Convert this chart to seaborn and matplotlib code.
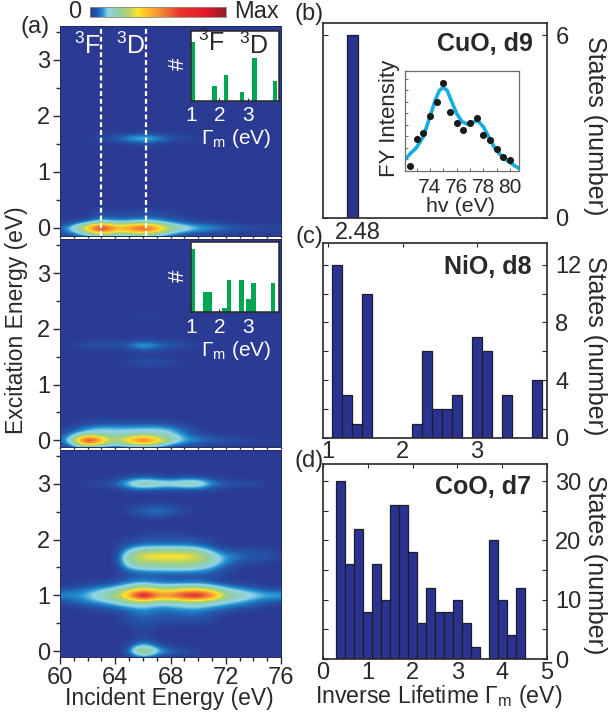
import numpy as np
import pandas as pd
import seaborn as sns
import matplotlib
matplotlib.use("Agg")
import matplotlib.pyplot as plt
from matplotlib.colors import LinearSegmentedColormap

W, H = 609, 717
sns.set_style("ticks")
plt.rcParams["font.family"] = ["Liberation Sans", "DejaVu Sans"]
plt.rcParams["mathtext.default"] = "regular"
plt.rcParams["axes.linewidth"] = 1.0
INK = "#2a2829"
BAR = "#2b3390"
GREEN = "#00a651"

# ---- map tables: intensity (fraction of colour bar), columns = incident energy
incident = list(range(60, 77))
cu_rows = [-0.2, -0.1, 0.0, 0.1, 0.2, 0.3, 1.5, 1.6, 1.7]
cu_map = [
    [.00,.02,.03,.05,.04,.04,.05,.04,.02,.01,.00,.00,.00,.00,.00,.00,.00],
    [.03,.06,.14,.24,.18,.18,.24,.18,.09,.05,.03,.02,.01,.00,.00,.00,.00],
    [.06,.17,.46,.98,.52,.58,.82,.58,.29,.19,.13,.11,.08,.06,.04,.03,.03],
    [.01,.03,.07,.17,.11,.13,.16,.13,.08,.05,.03,.02,.01,.00,.00,.00,.00],
    [.00,.00,.01,.05,.04,.04,.05,.05,.03,.02,.00,.00,.00,.00,.00,.00,.00],
    [.00,.00,.00,.03,.01,.02,.03,.02,.01,.00,.00,.00,.00,.00,.00,.00,.00],
    [.00,.00,.00,.00,.00,.01,.03,.02,.00,.00,.00,.00,.00,.00,.00,.00,.00],
    [.00,.00,.02,.03,.07,.12,.16,.12,.06,.04,.02,.00,.00,.00,.00,.00,.00],
    [.00,.00,.00,.00,.00,.00,.01,.00,.00,.00,.00,.00,.00,.00,.00,.00,.00],
]
ni_rows = [-0.1, 0.0, 0.1, 0.2, 0.3, 0.4, 1.3, 1.4, 1.5, 1.6, 1.7, 1.8, 2.2]
ni_map = [
    [.02,.07,.20,.11,.07,.11,.15,.11,.05,.03,.02,.01,.00,.00,.00,.00,.00],
    [.05,.20,.98,.50,.26,.46,.74,.48,.22,.12,.09,.07,.05,.04,.02,.02,.01],
    [.03,.10,.18,.17,.15,.17,.18,.17,.15,.08,.04,.02,.00,.00,.00,.00,.00],
    [.01,.04,.10,.13,.12,.12,.13,.13,.11,.05,.02,.00,.00,.00,.00,.00,.00],
    [.00,.01,.03,.04,.04,.04,.04,.04,.03,.02,.00,.00,.00,.00,.00,.00,.00],
    [.00,.00,.01,.02,.01,.01,.01,.01,.00,.00,.00,.00,.00,.00,.00,.00,.00],
    [.00,.00,.00,.00,.00,.00,.01,.01,.00,.00,.00,.00,.00,.00,.00,.00,.00],
    [.00,.00,.00,.00,.00,.03,.05,.05,.03,.01,.00,.00,.00,.00,.00,.00,.00],
    [.00,.00,.00,.00,.00,.00,.01,.00,.00,.00,.00,.00,.00,.00,.00,.00,.00],
    [.00,.00,.00,.01,.00,.01,.02,.02,.01,.00,.00,.00,.00,.00,.00,.00,.00],
    [.00,.02,.05,.05,.04,.07,.15,.09,.06,.04,.02,.00,.00,.00,.00,.00,.00],
    [.00,.00,.00,.01,.00,.01,.01,.01,.01,.00,.00,.00,.00,.00,.00,.00,.00],
    [.00,.00,.00,.00,.00,.00,.03,.02,.00,.00,.00,.00,.00,.00,.00,.00,.00],
]
co_rows = [-0.1, 0.0, 0.1, 0.2, 0.3, 0.4, 0.5, 0.6, 0.7, 0.8, 0.9, 1.0, 1.1, 1.2, 1.3,
           1.4, 1.5, 1.6, 1.7, 1.8, 1.9, 2.0, 2.1, 2.4, 2.5, 2.6, 2.9, 3.0, 3.1, 3.2]
co_map = [
    [.00,.00,.00,.00,.00,.00,.07,.02,.00,.00,.00,.00,.00,.00,.00,.00,.00],
    [.00,.00,.00,.00,.00,.05,.38,.14,.08,.05,.02,.00,.00,.00,.00,.00,.00],
    [.00,.00,.00,.00,.00,.02,.16,.05,.01,.00,.00,.00,.00,.00,.00,.00,.00],
    [.00,.00,.00,.00,.00,.00,.05,.01,.00,.00,.00,.00,.00,.00,.00,.00,.00],
    [.00,.00,.00,.00,.00,.00,.03,.00,.00,.00,.00,.00,.00,.00,.00,.00,.00],
    [.00,.00,.00,.00,.00,.00,.03,.01,.00,.00,.00,.00,.00,.00,.00,.00,.00],
    [.00,.00,.00,.00,.00,.03,.05,.03,.02,.02,.02,.02,.00,.00,.00,.00,.00],
    [.00,.00,.00,.00,.00,.04,.06,.05,.04,.05,.05,.03,.00,.00,.00,.00,.00],
    [.00,.00,.00,.02,.03,.05,.08,.06,.06,.07,.07,.05,.03,.00,.00,.00,.00],
    [.00,.02,.04,.05,.07,.10,.13,.09,.10,.12,.13,.10,.08,.06,.04,.02,.00],
    [.04,.06,.09,.12,.16,.24,.26,.20,.20,.22,.24,.20,.14,.12,.08,.06,.04],
    [.10,.09,.12,.18,.27,.46,1.0,.60,.58,.80,.88,.62,.26,.19,.15,.12,.12],
    [.05,.06,.08,.12,.16,.28,.40,.30,.28,.34,.36,.26,.15,.11,.08,.05,.04],
    [.00,.02,.03,.04,.06,.10,.14,.10,.10,.10,.11,.08,.05,.03,.02,.00,.00],
    [.00,.00,.00,.00,.02,.05,.06,.05,.04,.04,.04,.03,.00,.00,.00,.00,.00],
    [.00,.00,.00,.00,.00,.04,.06,.06,.06,.06,.06,.05,.03,.00,.00,.00,.00],
    [.00,.00,.00,.00,.00,.13,.16,.17,.18,.18,.16,.10,.04,.02,.00,.00,.00],
    [.00,.00,.00,.00,.00,.20,.27,.27,.28,.28,.25,.20,.08,.05,.03,.02,.00],
    [.00,.00,.00,.00,.00,.22,.36,.38,.38,.38,.34,.17,.10,.07,.05,.05,.02],
    [.00,.00,.00,.00,.00,.13,.22,.24,.24,.24,.20,.10,.05,.04,.04,.03,.00],
    [.00,.00,.00,.00,.01,.05,.07,.07,.07,.07,.06,.03,.00,.00,.00,.00,.00],
    [.00,.00,.00,.00,.00,.03,.04,.05,.05,.05,.04,.02,.00,.00,.00,.00,.00],
    [.00,.00,.00,.00,.00,.00,.02,.02,.02,.02,.00,.00,.00,.00,.00,.00,.00],
    [.00,.00,.00,.00,.00,.00,.02,.03,.01,.00,.00,.00,.00,.00,.00,.00,.00],
    [.00,.00,.00,.00,.00,.03,.06,.09,.06,.03,.01,.00,.00,.00,.00,.00,.00],
    [.00,.00,.00,.00,.00,.01,.03,.05,.03,.01,.00,.00,.00,.00,.00,.00,.00],
    [.00,.00,.00,.00,.01,.05,.07,.05,.04,.05,.05,.03,.01,.00,.00,.00,.00],
    [.00,.00,.02,.04,.06,.15,.24,.20,.18,.22,.22,.10,.06,.05,.04,.01,.00],
    [.00,.00,.00,.00,.01,.05,.07,.05,.03,.05,.05,.03,.00,.00,.00,.00,.00],
    [.00,.00,.00,.00,.00,.00,.01,.01,.00,.00,.00,.00,.00,.00,.00,.00,.00],
]

# ---- lifetime histograms
cuo_gamma = [2.48]
cuo_states = [6]
nio_bin_start, nio_bin_width = 1.047, 0.1346
nio_states = [12, 3, 1, 10, 0, 0, 0, 0, 1, 6, 2, 2, 3, 0, 7, 6, 0, 3, 0, 0, 4]
coo_bin_start, coo_bin_width = 0.3, 0.2
coo_states = [30, 16, 22, 8, 16, 10, 26, 26, 18, 6, 12, 8, 8, 10, 6, 2, 0, 20, 10, 4, 12]

# ---- insets
inset_cu_gamma = [1.07, 1.82, 2.23, 2.79, 3.22, 3.95]
inset_cu_count = [8.0, 2.0, 3.5, 1.15, 5.8, 2.7]
inset_ni_gamma = [1.07, 1.49, 1.655, 2.17, 2.335, 2.78, 3.03, 3.195, 3.88]
inset_ni_count = [8.5, 2.75, 2.75, 0.6, 4.3, 4.3, 1.7, 3.9, 3.9]

fy_hv = [72.5, 73.0, 73.5, 74.0, 74.5, 75.0, 75.5, 76.0, 76.5, 77.0, 77.5, 78.0, 78.5, 79.0, 79.5, 80.0]
fy_dots = [0.047, 0.317, 0.373, 0.55, 0.69, 0.873, 0.59, 0.473, 0.407, 0.473, 0.53, 0.357, 0.307, 0.217, 0.137, 0.107]
curve_hv = [72.13, 72.5, 73.0, 73.5, 74.0, 74.4, 74.7, 75.0, 75.3, 75.6, 76.0, 76.4, 76.8, 77.2, 77.6, 78.0, 78.4,
            78.8, 79.2, 79.6, 80.0, 80.7]
curve_fy = [0.113, 0.167, 0.233, 0.34, 0.54, 0.707, 0.80, 0.835, 0.80, 0.70, 0.573, 0.49, 0.467, 0.483, 0.50,
            0.44, 0.34, 0.24, 0.17, 0.12, 0.08, 0.02]

cbar_stops = [(0, "#2b3a92"), (.05, "#2457ab"), (.09, "#1f8fd0"), (.13, "#8fd4e6"), (.21, "#8fcfa0"),
              (.30, "#c6d55c"), (.35, "#ffe528"), (.43, "#fbb630"), (.55, "#f07a35"), (.66, "#e8352f"),
              (.86, "#e5172b"), (1, "#8e2028")]
cmap = LinearSegmentedColormap.from_list("rixs", cbar_stops, N=512)

fig = plt.figure(figsize=(W / 100, H / 100), dpi=100)


def axpx(x0, y0, x1, y1, **kw):
    return fig.add_axes([x0 / W, 1 - y1 / H, (x1 - x0) / W, (y1 - y0) / H], **kw)


def txt(x, y, s, **kw):
    kw.setdefault("color", INK)
    kw.setdefault("fontsize", 15)
    kw.setdefault("ha", "center")
    kw.setdefault("va", "center")
    fig.text(x / W, 1 - y / H, s, **kw)


def map_panel(box, rows, table, ylim, xlabels):
    ax = axpx(*box)
    grid = np.zeros((40, len(incident)))
    ys = np.round(np.arange(-0.2, 3.75, 0.1), 1)
    for r, row in zip(rows, table):
        grid[int(round((r + 0.2) / 0.1))] = row
    ax.imshow(grid, origin="lower", aspect="auto", cmap=cmap, vmin=0, vmax=1, interpolation="bicubic",
              extent=[59.5, 76.5, ys[0] - 0.05, ys[-1] + 0.05])
    ax.set_xlim(60, 76)
    ax.set_ylim(*ylim)
    ax.set_yticks([0, 1, 2, 3])
    ax.set_yticks([0.5, 1.5, 2.5, 3.5], minor=True)
    ax.set_xticks(range(60, 77, 4))
    ax.set_xticks(range(60, 77), minor=True)
    ax.tick_params(which="major", length=5, width=1, color=INK, labelsize=17, labelcolor=INK, pad=2)
    ax.tick_params(which="minor", length=3, width=1, color=INK)
    if not xlabels:
        ax.tick_params(axis="x", which="both", labelbottom=False, length=1.5)
    for s in ax.spines.values():
        s.set_color("#232a5e")
        s.set_linewidth(0.7)
    return ax


a1 = map_panel((60, 26, 281, 235.5), cu_rows, cu_map, (-0.14, 3.6), False)
a2 = map_panel((60, 238.5, 281, 447), ni_rows, ni_map, (-0.12, 3.62), False)
a3 = map_panel((60, 450, 281, 657), co_rows, co_map, (-0.1, 3.6), True)
for xv in (63, 66.2):
    a1.axvline(xv, color="white", lw=1.6, ls=(0, (2.2, 1.3)))

cax = axpx(90, 6.5, 226, 17)
cax.imshow(np.linspace(0, 1, 256)[None, :], aspect="auto", cmap=cmap, vmin=0, vmax=1)
cax.set_xticks([])
cax.set_yticks([])
for s in cax.spines.values():
    s.set_color("#8f8a80")
    s.set_linewidth(0.6)


def inset_bars(box, gamma, count):
    ax = axpx(*box, zorder=5)
    ax.set_facecolor("white")
    width = 0.165
    edges = sorted({round(g + d, 4) for g in gamma for d in (-width / 2, width / 2)})
    sns.histplot(x=gamma, weights=count, bins=edges, ax=ax, color=GREEN, edgecolor=GREEN, linewidth=0, alpha=1)
    ax.set_xlim(1.0, 4.09)
    ax.set_ylim(0, 9.5)
    ax.set_xlabel("")
    ax.set_ylabel("")
    ax.set_xticks([1, 2, 3])
    ax.set_yticks([])
    ax.tick_params(axis="x", direction="in", length=2, width=0.8, labelsize=15, labelcolor="white", color=INK, pad=4)
    for s in ax.spines.values():
        s.set_color(INK)
        s.set_linewidth(1.1)
    return ax


inset_bars((191, 31, 279, 100.7), inset_cu_gamma, inset_cu_count)
inset_bars((191, 242, 279, 312), inset_ni_gamma, inset_ni_count)
txt(211, 43, "$^{3}$F", fontsize=18, zorder=10)
txt(254, 46, "$^{3}$D", fontsize=18, zorder=10)
txt(87, 46, "$^{3}$F", fontsize=18, color="white", zorder=10)
txt(131, 46, "$^{3}$D", fontsize=18, color="white", zorder=10)
txt(178, 64, "#", rotation=90, color="white", fontsize=16, zorder=10)
txt(178, 276, "#", rotation=90, color="white", fontsize=16, zorder=10)
txt(236, 139, "Γ$_{m}$ (eV)", color="white", fontsize=15, zorder=10)
txt(236, 350, "Γ$_{m}$ (eV)", color="white", fontsize=15, zorder=10)


def hist_panel(box, starts, width, states, xlim, ylim, major, minor, xticks):
    ax = axpx(*box)
    edges = [starts + i * width for i in range(len(states) + 1)]
    centers = [e + width / 2 for e in edges[:-1]]
    df = pd.DataFrame({"gamma": centers, "states": states})
    sns.histplot(df, x="gamma", weights="states", bins=edges, ax=ax, color=BAR, edgecolor="#1c1c2a", linewidth=0.9,
                 alpha=1)
    ax.set_xlim(*xlim)
    ax.set_ylim(*ylim)
    ax.set_xlabel("")
    ax.set_ylabel("")
    ax.yaxis.tick_right()
    ax.set_yticks(major)
    ax.set_yticks(minor, minor=True)
    ax.set_xticks(xticks)
    ax.tick_params(axis="y", which="both", direction="in", left=True, right=True, length=3.5, width=0.8, color=INK,
                   labelsize=17, labelcolor=INK, pad=6)
    ax.tick_params(axis="x", direction="in", bottom=False, top=True, length=3, width=0.8, color=INK, labelsize=17,
                   labelcolor=INK, pad=2)
    for s in ax.spines.values():
        s.set_color(INK)
        s.set_linewidth(1.2)
    return ax


bb = hist_panel((323, 23, 547, 218), cuo_gamma[0] - 0.025, 0.05, cuo_states, (2.346, 3.364), (0, 6.41), [0, 6], [], [])
cc = hist_panel((323, 243, 547, 438), nio_bin_start, nio_bin_width, nio_states, (0.93, 3.94), (0, 13.5), [0, 4, 8, 12],
                [2, 6, 10], [1, 2, 3])
dd = hist_panel((323, 464, 547, 659), coo_bin_start, coo_bin_width, coo_states, (0, 5), (0, 32.9), [0, 10, 20, 30],
                [5, 15, 25], [0, 1, 2, 3, 4, 5])
dd.tick_params(axis="x", bottom=True, top=True)

# inset of panel b
fy = axpx(405, 70.7, 519.3, 170.7, zorder=5)
fy.set_facecolor("white")
sns.lineplot(x=curve_hv, y=curve_fy, ax=fy, color="#12aee0", lw=2.6, sort=False, errorbar=None)
sns.scatterplot(x=fy_hv, y=fy_dots, ax=fy, color="#1a1a1a", s=26, linewidth=0, zorder=4)
fy.set_xlim(72.13, 80.7)
fy.set_ylim(0, 1)
fy.set_xticks([74, 76, 78, 80])
fy.set_xticks([73, 75, 77, 79], minor=True)
fy.set_yticks(np.arange(0.115, 1, 0.115), labels=[])
fy.tick_params(axis="y", direction="in", length=2, width=0.6, color="#555555")
fy.tick_params(axis="x", which="both", direction="in", length=2, width=0.6, color="#555555", labelsize=15,
               labelcolor=INK, pad=5)
for s in fy.spines.values():
    s.set_color("#6d6d6d")
    s.set_linewidth(0.9)

# ---- figure text
txt(75, 12, "0", fontsize=17)
txt(257, 12, "Max", fontsize=17)
txt(35, 27, "(a)", fontsize=17)
txt(309, 14, "(b)", fontsize=17)
txt(309, 237, "(c)", fontsize=17)
txt(309, 461, "(d)", fontsize=17)
txt(358, 233, "2.48", fontsize=17)
txt(17, 320, "Excitation Energy (eV)", rotation=90, fontsize=16.5)
txt(169, 698, "Incident Energy (eV)", fontsize=16.5)
txt(439, 696, "Inverse Lifetime Γ$_{m}$ (eV)", fontsize=16.7)
txt(389, 118, "FY Intensity", rotation=90, fontsize=16, zorder=10)
txt(460, 206, "hv (eV)", fontsize=15.4, zorder=10)
for y in (126, 346, 565):
    txt(595, y, "States (number)", rotation=270, fontsize=18)
txt(533, 44, "CuO, d9", ha="right", fontweight="bold", fontsize=18)
txt(532, 267, "NiO, d8", ha="right", fontweight="bold", fontsize=18)
txt(531, 487, "CoO, d7", ha="right", fontweight="bold", fontsize=18)

fig.savefig("out.png", dpi=100)
